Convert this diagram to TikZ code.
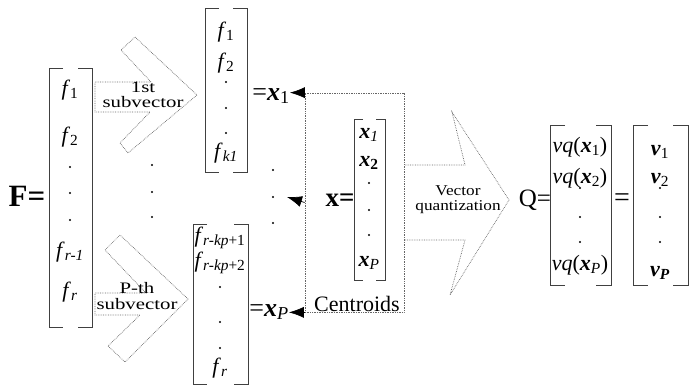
\documentclass[tikz,border=0pt]{standalone}
\usepackage{fontspec}
\setmainfont{Liberation Serif}
\newfontfamily\widerm[FakeStretch=1.3]{Liberation Serif}
\newfontfamily\widerb[FakeStretch=1.15]{Liberation Serif}
\usetikzlibrary{arrows.meta}

\newcommand{\fs}[1]{\textit{f}\textsubscript{#1}}
\newcommand{\bx}{\textbf{\textit{x}}}
\newcommand{\bv}{\textbf{\textit{v}}}
% bracket: left, top, right, bottom, stub length
\newcommand{\brkt}[5]{%
\draw[brk] (#1+#5,#2) -- (#1,#2) -- (#1,#4) -- (#1+#5,#4);
\draw[brk] (#3-#5,#2) -- (#3,#2) -- (#3,#4) -- (#3-#5,#4);}

\begin{document}
\begin{tikzpicture}[x=1pt,y=-1pt,
  brk/.style={black!75,line width=0.8pt},
  dotln/.style={black!60,densely dotted,line width=0.7pt},
  ent/.style={font=\fontsize{22}{22}\selectfont,inner sep=0pt},
  sub/.style={font=\widerm\fontsize{16}{15.5}\selectfont,align=center,inner sep=0pt},
  tip/.style={-{Latex[length=15pt,width=11pt]},line width=0.7pt}]
\useasboundingbox (0,0) rectangle (692,385);

% the feature vector F
\node[font=\fontsize{31}{31}\selectfont\bfseries] (F) at (27,196) {F=};
\brkt{49}{68}{92}{327}{14}
\foreach \y/\t [count=\i] in {90/{\fs{1}},137/{\fs{2}},252/{\fs{\textit{r-1}}},292/{\fs{\textit{r}}}}
\node[ent] (fv\i) at (70,\y) {\t};
\foreach \y in {167,193,220}
\fill (70,\y) circle (1.2);

% splitting arrows
\draw[dotln] (95,82) -- (151,82) -- (121,50) -- (135,37) -- (197,95) -- (128,153) -- (120,143) -- (150,112) -- (95,112) -- cycle;
\node[sub] (split1) at (143,95) {1st\\subvector};
\draw[dotln] (95,293) -- (146,293) -- (105,250) -- (120,235) -- (188,299) -- (125,362) -- (108,346) -- (140,315) -- (95,315) -- cycle;
\node[sub] (splitP) at (137,296) {P-th\\subvector};
\foreach \y in {165,192,217}
\fill (152,\y) circle (1.2);

% first subvector
\brkt{205}{8}{247}{172}{14}
\foreach \y/\t [count=\i] in {32/{\fs{1}},63/{\fs{2}},153/{\fs{\textit{k1}}}}
\node[ent] (sa\i) at (226,\y) {\t};
\foreach \y in {82,108,133}
\fill (226,\y) circle (1.2);
\node[font=\fontsize{26}{26}\selectfont,inner sep=0pt] (x1lab) at (271,96) {=\bx\textsubscript{1}};

% P-th subvector
\brkt{193}{224}{248}{384}{14}
\foreach \y/\t [count=\i] in {238/{\fs{\textit{r-kp}+1}},263/{\fs{\textit{r-kp}+2}},368/{\fs{\textit{r}}}}
\node[ent] (sp\i) at (220,\y) {\t};
\foreach \y in {287,322,348}
\fill (220,\y) circle (1.2);
\node[font=\fontsize{26}{26}\selectfont,inner sep=0pt] (xPlab) at (269,312) {=\bx\textsubscript{\textit{P}}};

\foreach \y in {170,197,223}
\fill (273,\y) circle (1.2);
\coordinate (mid) at (287,197);

% centroids
\node[dotln,draw,minimum width=99,minimum height=219,inner sep=0pt] (cbox) at (354.5,202.5) {};
\draw[tip] (cbox.north west) -- (x1lab.east |- cbox.north west);
\draw[tip] (cbox.west) -- (mid);
\draw[tip] (cbox.south west) -- (xPlab.east |- cbox.south west);
\node[font=\fontsize{27}{27}\selectfont\bfseries,inner sep=0pt] (xeq) at (340,200) {x=};
\brkt{354}{119}{385}{280}{9}
\foreach \y/\t [count=\i] in {135/{\bx\textsubscript{\textit{1}}},163/{\bx\textsubscript{\textbf{2}}},263/{\bx\textsubscript{\textit{P}}}}
\node[ent] (c\i) at (369,\y) {\t};
\foreach \y in {183,210,235}
\fill (369,\y) circle (1.2);
\node[font=\fontsize{22}{22}\selectfont,inner sep=0pt] (clab) at (357,304) {Centroids};

% vector quantization
\draw[dotln] (405,165) -- (465,165) -- (452,112) -- (509,200) -- (450,295) -- (465,240) -- (405,240);
\node[font=\widerb\fontsize{15}{15}\selectfont,align=center,inner sep=0pt] (vqlab) at (458,200) {Vector\\quantization};
\node[font=\fontsize{25}{25}\selectfont,inner sep=0pt] (Q) at (535,200) {Q=};
\brkt{550}{125}{611}{285}{15}
\foreach \y/\t [count=\i] in {147/{\textit{vq}(\bx\textsubscript{1})},178/{\textit{vq}(\bx\textsubscript{2})},265/{\textit{vq}(\bx\textsubscript{\textit{P}})}}
\node[ent] (q\i) at (580,\y) {\t};
\foreach \y in {188,217,242}
\fill (580,\y) circle (1.2);
\node[font=\fontsize{28}{28}\selectfont,inner sep=0pt] (eq) at (622,200) {=};
\brkt{633}{125}{688}{285}{15}
\foreach \y/\t [count=\i] in {152/{\bv\textsubscript{1}},180/{\bv\textsubscript{2}},273/{\bv\textsubscript{\textbf{\textit{P}}}}}
\node[ent] (v\i) at (660,\y) {\t};
\foreach \y in {188,217,242}
\fill (660,\y) circle (1.2);
\end{tikzpicture}
\end{document}
